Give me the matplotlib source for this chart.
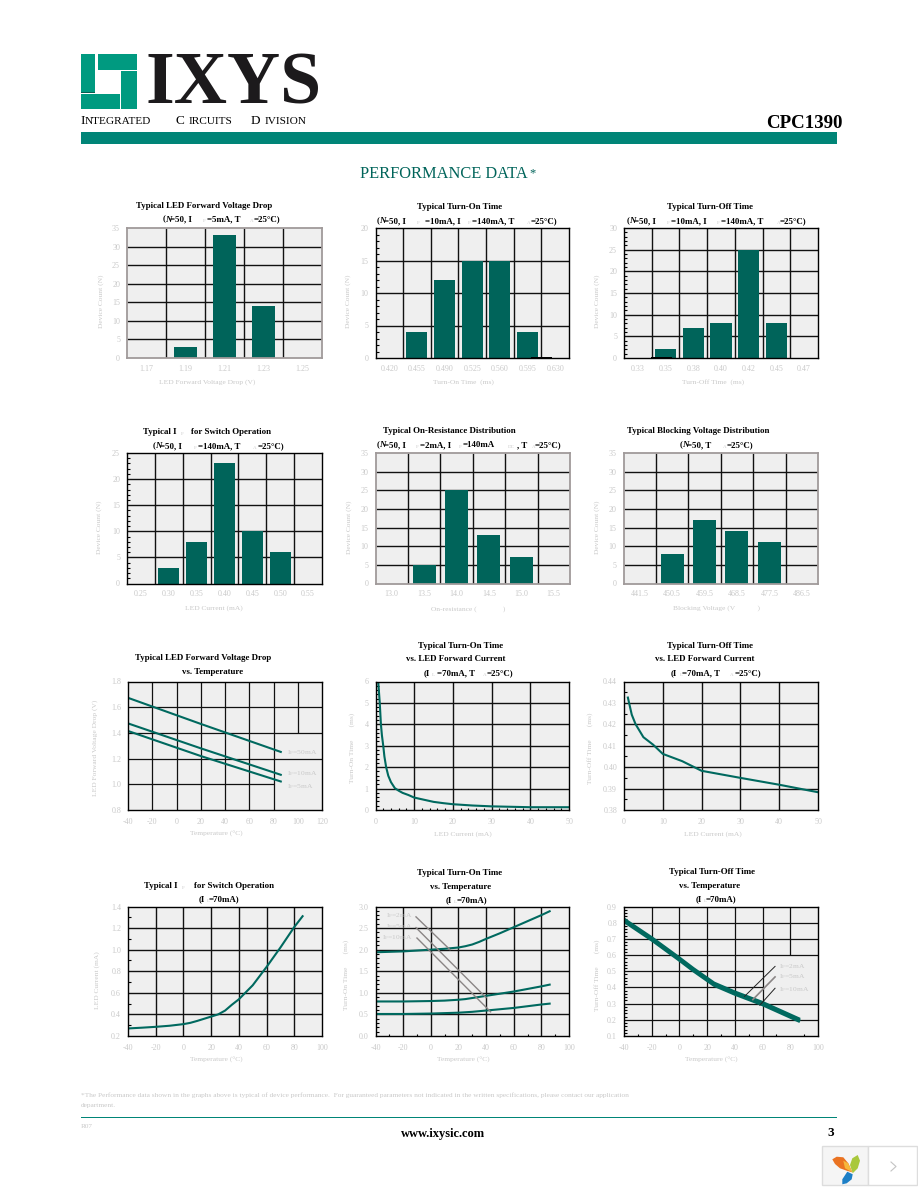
import numpy as np
import matplotlib
matplotlib.use("Agg")
from matplotlib import pyplot as plt
from matplotlib.patches import Rectangle, Polygon

plt.rcParams['font.family'] = ['Liberation Serif', 'DejaVu Sans']
plt.rcParams['mathtext.fontset'] = 'custom'
plt.rcParams['mathtext.rm'] = 'Liberation Serif'
plt.rcParams['mathtext.default'] = 'regular'

# bar chart data
vf_labels = ["1.17", "1.19", "1.21", "1.23", "1.25"]
vf_counts = [0, 3, 33, 14, 0]
ton_labels = ["0.420", "0.455", "0.490", "0.525", "0.560", "0.595", "0.630"]
ton_counts = [0, 4, 12, 15, 15, 4, 0]
toff_labels = ["0.33", "0.35", "0.38", "0.40", "0.42", "0.45", "0.47"]
toff_counts = [0, 2, 7, 8, 25, 8, 0]
ifon_labels = ["0.25", "0.30", "0.35", "0.40", "0.45", "0.50", "0.55"]
ifon_counts = [0, 3, 8, 23, 10, 6, 0]
ron_labels = ["13.0", "13.5", "14.0", "14.5", "15.0", "15.5"]
ron_counts = [0, 5, 25, 13, 7, 0]
bv_labels = ["441.5", "450.5", "459.5", "468.5", "477.5", "486.5"]
bv_counts = [0, 8, 17, 14, 11, 0]

# line chart data
vf_temp = [-40, 20, 86]
vf_50ma = [1.673, 1.47, 1.252]
vf_10ma = [1.474, 1.28, 1.074]
vf_5ma = [1.415, 1.22, 1.022]

ton_if = [0.7, 0.9, 1.1, 1.25, 1.4, 1.65, 2, 2.3, 2.75, 3.3, 4, 5, 6, 7, 8.5, 10, 12, 15, 17.5, 20, 25, 30, 35, 40, 50]
ton_ms = [6, 5.5, 5, 4.5, 4, 3.5, 3, 2.5, 2, 1.6, 1.3, 1.02, 0.9, 0.8, 0.7, 0.58, 0.5, 0.38, 0.32, 0.27, 0.21, 0.17, 0.15, 0.13, 0.13]

toff_if = [1, 2, 3, 5, 7.5, 10, 15, 20, 30, 40, 50]
toff_ms = [0.4325, 0.4245, 0.42, 0.414, 0.4105, 0.4062, 0.4028, 0.3983, 0.395, 0.3918, 0.3883]

ifon_temp = [-40, -30, -20, -10, 0, 5, 10, 15, 20, 25, 30, 35, 40, 45, 50, 55, 60, 65, 70, 75, 80, 86]
ifon_ma = [0.27, 0.277, 0.285, 0.295, 0.31, 0.322, 0.34, 0.36, 0.38, 0.40, 0.435, 0.49, 0.54, 0.605, 0.67, 0.755, 0.84, 0.93, 1.02, 1.115, 1.21, 1.31]

temp_pts = [-40, -30, -20, -10, 0, 10, 20, 25, 30, 35, 40, 50, 60, 70, 80, 86]
ton_2ma = [1.94, 1.95, 1.96, 1.98, 2.0, 2.02, 2.05, 2.08, 2.12, 2.18, 2.25, 2.38, 2.52, 2.66, 2.8, 2.89]
ton_5ma = [0.8, 0.8, 0.8, 0.805, 0.81, 0.82, 0.84, 0.855, 0.88, 0.905, 0.93, 0.98, 1.03, 1.09, 1.15, 1.19]
ton_10ma = [0.51, 0.51, 0.51, 0.515, 0.52, 0.53, 0.54, 0.55, 0.56, 0.575, 0.59, 0.62, 0.65, 0.69, 0.73, 0.75]

toff_temp = [-40, -20, 0, 10, 20, 25, 40, 60, 86]
toff_2ma = [0.822, 0.707, 0.582, 0.517, 0.457, 0.427, 0.372, 0.307, 0.207]
toff_5ma = [0.815, 0.70, 0.575, 0.51, 0.45, 0.42, 0.365, 0.30, 0.20]
toff_10ma = [0.808, 0.693, 0.568, 0.503, 0.443, 0.413, 0.358, 0.293, 0.193]

W, H = 918, 1188
GREY = '#c9c9c9'
BAR = '#00645a'
LINE = '#00695f'
TEAL = '#008577'
PANEL = '#efefef'
FRAME = '#a09a9a'
GRID = '#111111'
TSIZE = 6.4

fig = plt.figure(figsize=(W / 100, H / 100), dpi=100, facecolor='white')

# overlay in pixel coordinates for the page furniture
page = fig.add_axes([0, 0, 1, 1], zorder=5)
page.set_xlim(0, W)
page.set_ylim(H, 0)
page.axis('off')


def ptext(x, y, s, size=6.4, weight='normal', color='black', ha='left', **kw):
    page.text(x, y, s, fontsize=size, fontweight=weight, color=color, ha=ha, va='center', **kw)


def title(x, y, s):
    ptext(x, y, s, size=TSIZE, weight='bold', ha='center')


def segs(y, items):
    # title line made of bold runs and faint subscripts
    for x, s in items:
        if s.startswith('_'):
            ptext(x, y + 2, s[1:], size=3.6, color=GREY)
        elif s == 'N':
            ptext(x, y, s, size=TSIZE, weight='bold', style='italic')
        else:
            ptext(x, y, s, size=TSIZE, weight='bold')


def panel(left, right, top, bottom, frame='black'):
    ax = fig.add_axes([left / W, 1 - bottom / H, (right - left) / W, (bottom - top) / H])
    ax.set_facecolor(PANEL)
    ax.set_axisbelow(False)
    for s in ax.spines.values():
        s.set_color(frame)
        s.set_linewidth(1.0 if frame == 'black' else 1.3)
        s.set_zorder(4)
    ax.tick_params(which='major', length=0, labelsize=5.8, labelcolor=GREY, pad=5)
    return ax


def minor(ax, ys=None, xs=None):
    if ys is not None:
        ax.set_yticks(ys, minor=True)
    if xs is not None:
        ax.set_xticks(xs, minor=True)
    ax.tick_params(which='minor', direction='in', length=1.8, width=0.8, color='black',
                   left=True, bottom=xs is not None)


def bars(box, labels, counts, ymax, ystep, width, frame='black', stray=None, minors=False):
    ax = panel(*box, frame=frame)
    x = np.arange(len(labels))
    ax.bar(x, counts, width=width, color=BAR, zorder=3)
    if stray is not None:
        ax.bar([stray], [0.3 * ymax / 35], width=0.75, color='black', zorder=3.5)
    ax.set_xlim(-0.5, len(labels) - 0.5)
    ax.set_ylim(0, ymax)
    ax.set_xticks(x)
    ax.set_xticklabels(labels)
    yt = np.arange(0, ymax + 1, ystep)
    ax.set_yticks(yt)
    ax.set_yticklabels([str(v) for v in yt])
    ax.vlines(x[:-1] + 0.5, 0, ymax, color=GRID, lw=1.0, zorder=2)
    ax.hlines(yt[1:-1], -0.5, len(labels) - 0.5, color=GRID, lw=1.0, zorder=2)
    if minors:
        minor(ax, ys=[v for v in range(ymax) if v % ystep])
    return ax


def lines(box, xlim, xstep, ylim, ystep, fmt='%.1f', xminor=None, yminor=None):
    ax = panel(*box)
    ax.set_xlim(*xlim)
    ax.set_ylim(*ylim)
    xt = np.arange(xlim[0], xlim[1] + 0.001, xstep)
    yt = np.arange(ylim[0], ylim[1] + ystep / 2, ystep)
    ax.set_xticks(xt)
    ax.set_xticklabels(['%d' % v for v in xt])
    ax.set_yticks(yt)
    ax.set_yticklabels([fmt % v for v in yt])
    ax.tick_params(axis='x', pad=6)
    minor(ax, ys=yminor, xs=xminor)
    return ax, xt[1:-1], yt[1:-1]


def grid(ax, xt, yt):
    ax.vlines(xt, *ax.get_ylim(), color=GRID, lw=1.0, zorder=2)
    ax.hlines(yt, *ax.get_xlim(), color=GRID, lw=1.0, zorder=2)


def labels(xl, xc, xy, yl, yx, yc):
    ptext(xc, xy, xl, size=5.4, color=GREY, ha='center')
    ptext(yx, yc, yl, size=5.4, color=GREY, ha='center', rotation=90, rotation_mode='anchor')


# header
LOGO = '#009a80'
page.add_patch(Rectangle((81, 54), 14, 38, color=LOGO, lw=0))
page.add_patch(Rectangle((98, 54), 39, 16, color=LOGO, lw=0))
page.add_patch(Rectangle((121, 71), 16, 38, color=LOGO, lw=0))
page.add_patch(Rectangle((81, 94), 39, 15, color=LOGO, lw=0))
page.add_patch(Rectangle((81, 92), 14, 1, color='#0a5c50', lw=0))
ptext(146, 85, "IXYS", size=53, weight='bold', color='#1c1a1c')
ptext(80, 121, "I", size=9.5)
ptext(85, 122, "NTEGRATED", size=8.1)
ptext(176, 121, "C", size=9.5)
ptext(189, 122, "IRCUITS", size=8.1)
ptext(251, 121, "D", size=9.5)
ptext(265, 122, "IVISION", size=8.1)
ptext(843, 123, "CPC1390", size=13.6, weight='bold', ha='right')
page.add_patch(Rectangle((81, 132), 756, 12, color=TEAL, lw=0))
ptext(359.5, 174.5, "PERFORMANCE DATA", size=11.8, color=BAR)
ptext(529, 173, "*", size=9, color=BAR)

# row 1
bars((127, 322, 228, 358), vf_labels, vf_counts, 35, 5, 0.59, frame=FRAME)
title(204, 206, "Typical LED Forward Voltage Drop")
segs(219.5, [(163, "("), (165.5, "N"), (170, "=50, I"), (203, "_F"), (207, "=5mA, T"), (250, "_A"), (254, "=25°C)")])
labels("LED Forward Voltage Drop (V)", 207, 381.7, "Device Count (N)", 101, 301.7)

bars((375.5, 569, 228, 358), ton_labels, ton_counts, 20, 5, 0.76, stray=5.5, minors=True)
title(460, 207, "Typical Turn-On Time")
segs(221, [(377, "("), (379.5, "N"), (384, "=50, I"), (417, "_F"), (425, "=10mA, I"), (468, "_F"), (472, "=140mA, T"), (527, "_A"), (531, "=25°C)")])
labels("Turn-On Time  (ms)", 463, 381.7, "Device Count (N)", 348, 301.7)

bars((624, 818, 228, 358), toff_labels, toff_counts, 30, 5, 0.76, stray=0.85, minors=True)
title(710, 207, "Typical Turn-Off Time")
segs(221, [(627, "("), (629.5, "N"), (634, "=50, I"), (667, "_F"), (671, "=10mA, I"), (717, "_F"), (721, "=140mA, T"), (777, "_A"), (780, "=25°C)")])
labels("Turn-Off Time  (ms)", 712.7, 381.7, "Device Count (N)", 597, 301.7)

# row 2
bars((127, 322, 453, 583.5), ifon_labels, ifon_counts, 25, 5, 0.76, minors=True)
segs(431.7, [(143, "Typical I"), (181, "_F"), (191, "for Switch Operation")])
segs(446, [(153, "("), (155.5, "N"), (160, "=50, I"), (194, "_F"), (198, "=140mA, T"), (253, "_A"), (258, "=25°C)")])
labels("LED Current (mA)", 214, 607.7, "Device Count (N)", 99, 527)

bars((375.5, 570, 453, 583.5), ron_labels, ron_counts, 35, 5, 0.71, frame=FRAME)
title(449.7, 431, "Typical On-Resistance Distribution")
segs(445, [(377, "("), (379.5, "N"), (384, "=50, I"), (416, "_F"), (420, "=2mA, I"), (459, "_F"), (463, "=140mA"), (508, "_DC"), (517, ", T"), (532, "_A"), (535, "=25°C)")])
labels("On-resistance (              )", 468, 609, "Device Count (N)", 349, 527)

bars((623.5, 818, 453, 583.5), bv_labels, bv_counts, 35, 5, 0.71, frame=FRAME)
title(698, 431, "Typical Blocking Voltage Distribution")
segs(445, [(680, "("), (682.5, "N"), (687, "=50, T"), (723, "_A"), (727, "=25°C)")])
labels("Blocking Voltage (V            )", 716.7, 608.5, "Device Count (N)", 596.7, 527)

# row 3
ax, xt, yt = lines((128, 322, 681.5, 810), (-40, 120), 20, (0.8, 1.8), 0.2)
ax.vlines(xt[:-1], 0.8, 1.8, color=GRID, lw=0.9, zorder=2)
ax.vlines(xt[-1], 1.4, 1.8, color=GRID, lw=0.9, zorder=2)
ax.hlines([1.2, 1.4, 1.6], -40, 120, color=GRID, lw=0.9, zorder=2)
ax.hlines(1.0, -40, 80, color=GRID, lw=0.9, zorder=2)
for v in (vf_50ma, vf_10ma, vf_5ma):
    ax.plot(vf_temp, v, color=LINE, lw=1.5, zorder=3)
ax.text(91, 1.245, "I$_F$=50mA", fontsize=5.4, color=GREY, va='center')
ax.text(91, 1.08, "I$_F$=10mA", fontsize=5.4, color=GREY, va='center')
ax.text(91, 0.985, "I$_F$=5mA", fontsize=5.4, color=GREY, va='center')
title(203, 657.7, "Typical LED Forward Voltage Drop")
title(213, 671.7, "vs. Temperature")
labels("Temperature (°C)", 216, 834, "LED Forward Voltage Drop (V)", 95, 748)

ax, xt, yt = lines((375.5, 569, 681.5, 810), (0, 50), 10, (0, 6), 1, fmt='%d',
                   xminor=np.arange(2, 50, 2), yminor=np.arange(0.2, 6, 0.2))
grid(ax, xt, yt)
ax.plot(ton_if, ton_ms, color=LINE, lw=1.5, zorder=3)
title(461, 646, "Typical Turn-On Time")
title(455.5, 658.7, "vs. LED Forward Current")
segs(673, [(423.5, "(I"), (432, "_L"), (437, "=70mA, T"), (483, "_A"), (487, "=25°C)")])
labels("LED Current (mA)", 463, 834, "Turn-On Time       (ms)", 351.7, 748)

ax, xt, yt = lines((624, 818, 681.5, 810), (0, 50), 10, (0.38, 0.44), 0.01, fmt='%.2f',
                   yminor=np.arange(0.385, 0.44, 0.01))
grid(ax, xt, yt)
ax.plot(toff_if, toff_ms, color=LINE, lw=1.5, zorder=3)
title(709.7, 646, "Typical Turn-Off Time")
title(705, 659, "vs. LED Forward Current")
segs(673, [(671, "(I"), (680, "_L"), (682, "=70mA, T"), (730, "_A"), (735, "=25°C)")])
labels("LED Current (mA)", 712.7, 834, "Turn-Off Time       (ms)", 590, 748)

# row 4
ax, xt, yt = lines((128, 322, 906.5, 1036), (-40, 100), 20, (0.2, 1.4), 0.2,
                   yminor=np.arange(0.3, 1.4, 0.2))
grid(ax, xt, yt)
ax.plot(ifon_temp, ifon_ma, color=LINE, lw=1.5, zorder=3)
segs(885.7, [(144, "Typical I"), (182, "_F"), (194, "for Switch Operation")])
segs(899, [(199, "(I"), (207, "_L"), (209, "=70mA)")])
labels("Temperature (°C)", 216, 1060, "LED Current (mA)", 96.7, 980)

ax, xt, yt = lines((375.5, 569, 906.5, 1036), (-40, 100), 20, (0, 3), 0.5,
                   xminor=np.arange(-30, 100, 20), yminor=np.arange(0.1, 3, 0.1))
grid(ax, xt, yt)
for v in (ton_2ma, ton_5ma, ton_10ma):
    ax.plot(temp_pts, v, color=LINE, lw=1.5, zorder=3)
ax.plot([-10.7, 13.9], [2.76, 2.0], color='#8a8585', lw=1.0, zorder=3.5)
ax.plot([-10.7, 40], [2.51, 0.89], color='#8a8585', lw=1.0, zorder=3.5)
ax.plot([-10, 43.3], [2.27, 0.56], color='#8a8585', lw=1.0, zorder=3.5)
ax.text(-13, 2.79, "I$_F$=2mA", fontsize=5.4, color=GREY, va='center', ha='right')
ax.text(-13, 2.53, "I$_F$=5mA", fontsize=5.4, color=GREY, va='center', ha='right')
ax.text(-13, 2.28, "I$_F$=10mA", fontsize=5.4, color=GREY, va='center', ha='right')
title(460, 872.7, "Typical Turn-On Time")
title(461, 886.7, "vs. Temperature")
segs(899.7, [(446, "(I"), (454, "_L"), (456.7, "=70mA)")])
labels("Temperature (°C)", 463, 1060, "Turn-On Time       (ms)", 346, 975)

ax, xt, yt = lines((624, 818, 906.5, 1036), (-40, 100), 20, (0.1, 0.9), 0.1,
                   xminor=np.arange(-30, 100, 20), yminor=np.arange(0.12, 0.9, 0.02))
ax.vlines(xt[:-1], 0.1, 0.9, color=GRID, lw=0.9, zorder=2)
ax.vlines(xt[-1], 0.6, 0.9, color=GRID, lw=0.9, zorder=2)
ax.hlines([0.2, 0.3, 0.6, 0.7, 0.8], -40, 100, color=GRID, lw=0.9, zorder=2)
ax.hlines([0.4, 0.5], -40, 60, color=GRID, lw=0.9, zorder=2)
for v in (toff_2ma, toff_5ma, toff_10ma):
    ax.plot(toff_temp, v, color=LINE, lw=2.2, zorder=3)
ax.plot([47, 69], [0.345, 0.53], color='#222222', lw=0.7, zorder=3.5)
ax.plot([53, 69], [0.325, 0.465], color='#8a8585', lw=1.2, zorder=3.5)
ax.plot([58, 69], [0.29, 0.395], color='#222222', lw=0.7, zorder=3.5)
ax.text(72, 0.53, "I$_F$=2mA", fontsize=5.4, color=GREY, va='center')
ax.text(72, 0.465, "I$_F$=5mA", fontsize=5.4, color=GREY, va='center')
ax.text(72, 0.39, "I$_F$=10mA", fontsize=5.4, color=GREY, va='center')
title(711.7, 872, "Typical Turn-Off Time")
title(710, 886, "vs. Temperature")
segs(899, [(696, "(I"), (704, "_L"), (706, "=70mA)")])
labels("Temperature (°C)", 711.7, 1060, "Turn-Off Time       (ms)", 596.7, 975)

# footer
ptext(81, 1095, "*The Performance data shown in the graphs above is typical of device performance.  For guaranteed parameters not indicated in the written specifications, please contact our application",
      size=5.28, color=GREY)
ptext(81, 1105, "department.", size=5.28, color=GREY)
page.add_patch(Rectangle((81, 1116.8), 756, 1.1, color=TEAL, lw=0))
ptext(81, 1127, "R07", size=5.2, color=GREY)
ptext(443, 1134, "www.ixysic.com", size=9, weight='bold', ha='center')
ptext(831, 1133.5, "3", size=9.5, weight='bold', ha='center')

# viewer widget in the corner
page.add_patch(Rectangle((822, 1146), 46, 39, facecolor='#f5f5f5', edgecolor='#dddddd', lw=1))
page.add_patch(Rectangle((868, 1146), 49, 39, facecolor='white', edgecolor='#dddddd', lw=1))
page.add_patch(Polygon([(832.3, 1159.3), (836.7, 1156.7), (843.3, 1157.3), (848.3, 1163.3), (852.3, 1172.3),
                        (846.7, 1170.7), (840, 1168.3), (835, 1164)], color='#ea7322', lw=0))
page.add_patch(Polygon([(843.3, 1160.7), (848.3, 1163.3), (852.3, 1172.3), (845, 1168.3)], color='#f6b73c', lw=0))
page.add_patch(Polygon([(850, 1165), (852.3, 1158.3), (857.7, 1155), (860, 1160.7), (857.7, 1168.3), (852.7, 1173.3)],
                       color='#a9c83c', lw=0))
page.add_patch(Polygon([(847.3, 1171.7), (852.7, 1174.3), (851.7, 1179.3), (846.7, 1183.3), (842.3, 1184.3), (842.3, 1179.3)],
                       color='#1d7fc6', lw=0))
page.plot([891, 896, 891], [1162, 1166.5, 1171], color='#c4c4c4', lw=0.8)

fig.savefig('out.png', dpi=100, facecolor='white')
